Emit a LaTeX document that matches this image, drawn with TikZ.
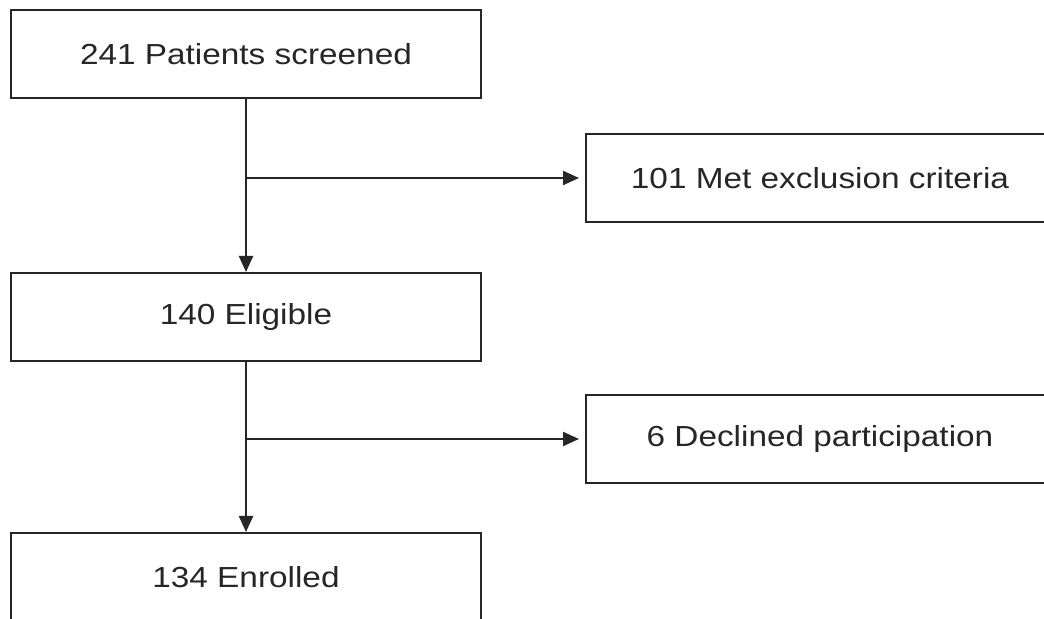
\documentclass[tikz,border=0pt]{standalone}
\usepackage{fontspec}
\setmainfont{Liberation Sans}[FakeStretch=1.15]
\usetikzlibrary{arrows.meta}

\tikzset{
    box/.style={draw=black!85, line width=1pt, minimum height=44pt, text=black!85, font=\fontsize{14.5}{17}\selectfont},
    leftbox/.style={box, minimum width=235pt},
    rightbox/.style={box, minimum width=234pt},
    arrow/.style={draw=black!85, line width=1.1pt, -{Triangle[length=8pt,width=7pt]}}
}

\begin{document}
\begin{tikzpicture}[x=0.5pt, y=-0.5pt]
                \path[use as bounding box, clip] (0,0) rectangle (1044,619);
                \fill[white] (0,0) rectangle (1044,619);
                \node[leftbox] (screened) at (246,54) {241 Patients screened};
                \node[leftbox] (eligible) at (246,317) {140 Eligible};
                \node[leftbox] (enrolled) at (246,577) {134 Enrolled};
                \node[rightbox] (excluded) at (820,178) {101 Met exclusion criteria};
                \node[rightbox] (declined) at (820,439) {6 Declined participation};
                \coordinate (split1) at (screened.south |- excluded.west);
                \coordinate (split2) at (eligible.south |- declined.west);
                \draw[arrow] (screened) -- (eligible);
                \draw[arrow] (eligible) -- (enrolled);
                \draw[arrow, shorten >=3pt] (split1) -- (excluded);
                \draw[arrow, shorten >=3pt] (split2) -- (declined);
            \end{tikzpicture}
\end{document}
